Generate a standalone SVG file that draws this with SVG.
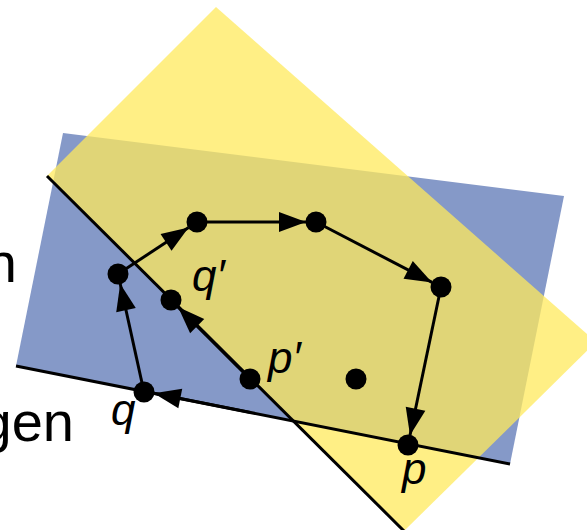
<svg xmlns="http://www.w3.org/2000/svg" width="587" height="530" viewBox="0 0 587 530">
<style>
.lbl{font-family:"Liberation Sans",Arial,sans-serif;font-size:56px;fill:#000}
.var{font-family:"Liberation Sans",Arial,sans-serif;font-size:44px;font-style:italic;fill:#000}
.edge{stroke:#000;stroke-width:3;fill:none}
.arr{stroke:#000;stroke-width:3;fill:none;marker-end:url(#ah)}
.dot{fill:#000}
</style>
<defs>
<marker id="ah" markerUnits="userSpaceOnUse" markerWidth="28" markerHeight="22" refX="27" refY="10" orient="auto" overflow="visible">
<path d="M0,0 L27,10 L0,20 Z" fill="#000"/>
</marker>
</defs>
<g id="planes">
<polygon id="blue-plane" points="63,133 564,196 510,464 16,366" fill="#8599c8"/>
<polygon id="yellow-plane" points="216,7 596,342 404,531 47,176" fill="#ffea5c" fill-opacity="0.75"/>
</g>
<g id="lines">
<line class="edge" x1="16" y1="366" x2="510" y2="464"/>
<line class="edge" x1="47" y1="176" x2="404" y2="531"/>
</g>
<g id="texts">
<text class="lbl" x="17" y="282" text-anchor="end">n</text>
<text class="lbl" x="74" y="441" text-anchor="end">gen</text>
</g>
<g id="connectors">
<path class="arr" d="M144,392 L120.2,283.8"/>
<path class="arr" d="M118,274 L188.6,227.5"/>
<path class="arr" d="M197,222 L306,222"/>
<path class="arr" d="M316,222 L432.1,282.4"/>
<path class="arr" d="M441,287 L410,435.2"/>
<path class="arr" d="M250,379 L178.1,307.1"/>
<path class="arr" d="M250,412.4 L153.8,393.3"/>
</g>
<g id="node-q"><circle class="dot" cx="144" cy="392" r="10.5"/><text class="var" x="111" y="425">q</text></g>
<g id="node-a"><circle class="dot" cx="118" cy="274" r="10.5"/></g>
<g id="node-b"><circle class="dot" cx="197" cy="222" r="10.5"/></g>
<g id="node-c"><circle class="dot" cx="316" cy="222" r="10.5"/></g>
<g id="node-d"><circle class="dot" cx="441" cy="287" r="10.5"/></g>
<g id="node-p"><circle class="dot" cx="408" cy="445" r="10.5"/><text class="var" x="402" y="484">p</text></g>
<g id="node-pprime"><circle class="dot" cx="250" cy="379" r="10.5"/><text class="var" x="268" y="373">p′</text></g>
<g id="node-qprime-near"><circle class="dot" cx="171" cy="300" r="10.5"/></g>
<g id="node-qprime-label"><text class="var" x="192" y="291">q′</text></g>
<g id="node-f"><circle class="dot" cx="356" cy="379" r="10.5"/></g>
</svg>
